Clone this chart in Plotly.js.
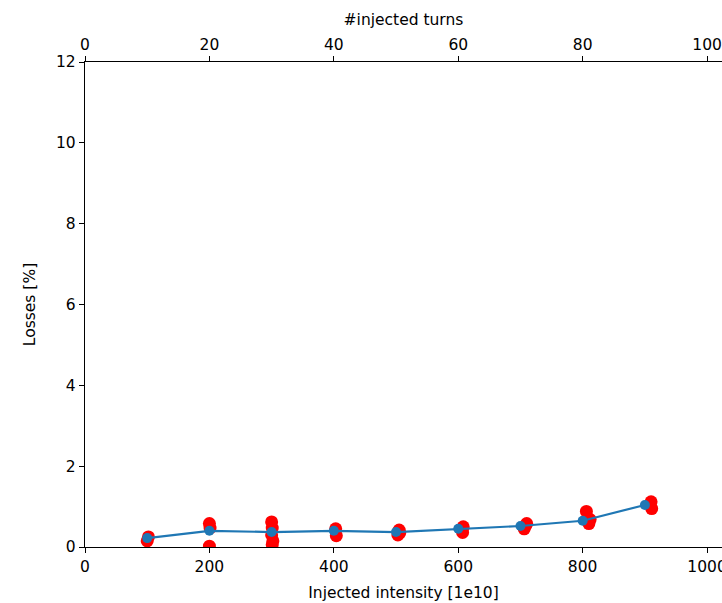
<!DOCTYPE html>
<html>
<head>
<meta charset="utf-8">
<script src="https://cdn.plot.ly/plotly-3.0.1.min.js"></script>
<style>html,body{margin:0;padding:0;background:#fff;}#chart{width:722px;height:603px;}</style>
</head>
<body>
<div id="chart"></div>
<script>
// Mean losses per intensity
const meanX = [100, 200, 300, 400, 500, 600, 700, 800, 900];
const meanY = [0.22, 0.40, 0.37, 0.40, 0.37, 0.45, 0.52, 0.65, 1.04];
// Individual measurements
const redX = [100, 102, 200, 201, 200, 300, 301, 300, 302, 301, 403, 404, 505, 503, 506, 607, 608, 706, 710, 708, 806, 810, 812, 910, 911];
const redY = [0.15, 0.25, 0.58, 0.47, 0.02, 0.62, 0.47, 0.30, 0.15, 0.06, 0.45, 0.28, 0.42, 0.30, 0.35, 0.36, 0.50, 0.45, 0.58, 0.52, 0.88, 0.58, 0.68, 1.12, 0.95];
const xTicks = [0, 200, 400, 600, 800, 1000];
const topTicks = [0, 20, 40, 60, 80, 100];
const yTicks = [0, 2, 4, 6, 8, 10, 12];

const font = {family: 'DejaVu Sans', size: 15.5, color: '#000'};
const traces = [
  {x: redX, y: redY, type: 'scatter', mode: 'markers', marker: {color: 'red', size: 13}, showlegend: false, hoverinfo: 'skip'},
  {x: meanX, y: meanY, type: 'scatter', mode: 'lines+markers', line: {color: '#1f77b4', width: 2.2}, marker: {color: '#1f77b4', size: 10}, showlegend: false},
  {x: meanX.map(v => v / 10), y: meanY, xaxis: 'x2', type: 'scatter', mode: 'markers', marker: {opacity: 0}, showlegend: false, hoverinfo: 'skip'}
];
const common = {ticks: 'outside', ticklen: 5, tickcolor: '#000', showline: true, linecolor: '#000', linewidth: 1.2, showgrid: false, zeroline: false, ticklabeloverflow: 'allow'};
const layout = {
  width: 722, height: 603,
  margin: {l: 85, r: 0, t: 62, b: 56},
  paper_bgcolor: '#fff', plot_bgcolor: '#fff',
  font: font,
  xaxis: Object.assign({range: [0, 1024], tickvals: xTicks, ticktext: xTicks.map(String), title: {text: 'Injected intensity [1e10]', font: font, standoff: 12}}, common),
  xaxis2: Object.assign({overlaying: 'x', side: 'top', range: [0, 102.4], tickvals: topTicks, ticktext: topTicks.map(String), title: {text: '#injected turns', font: font, standoff: 6}}, common),
  yaxis: Object.assign({range: [0, 12], tickvals: yTicks, ticktext: yTicks.map(String), title: {text: 'Losses [%]', font: font, standoff: 16}}, common)
};
Plotly.newPlot('chart', traces, layout, {displayModeBar: false, staticPlot: true});
</script>
</body>
</html>
